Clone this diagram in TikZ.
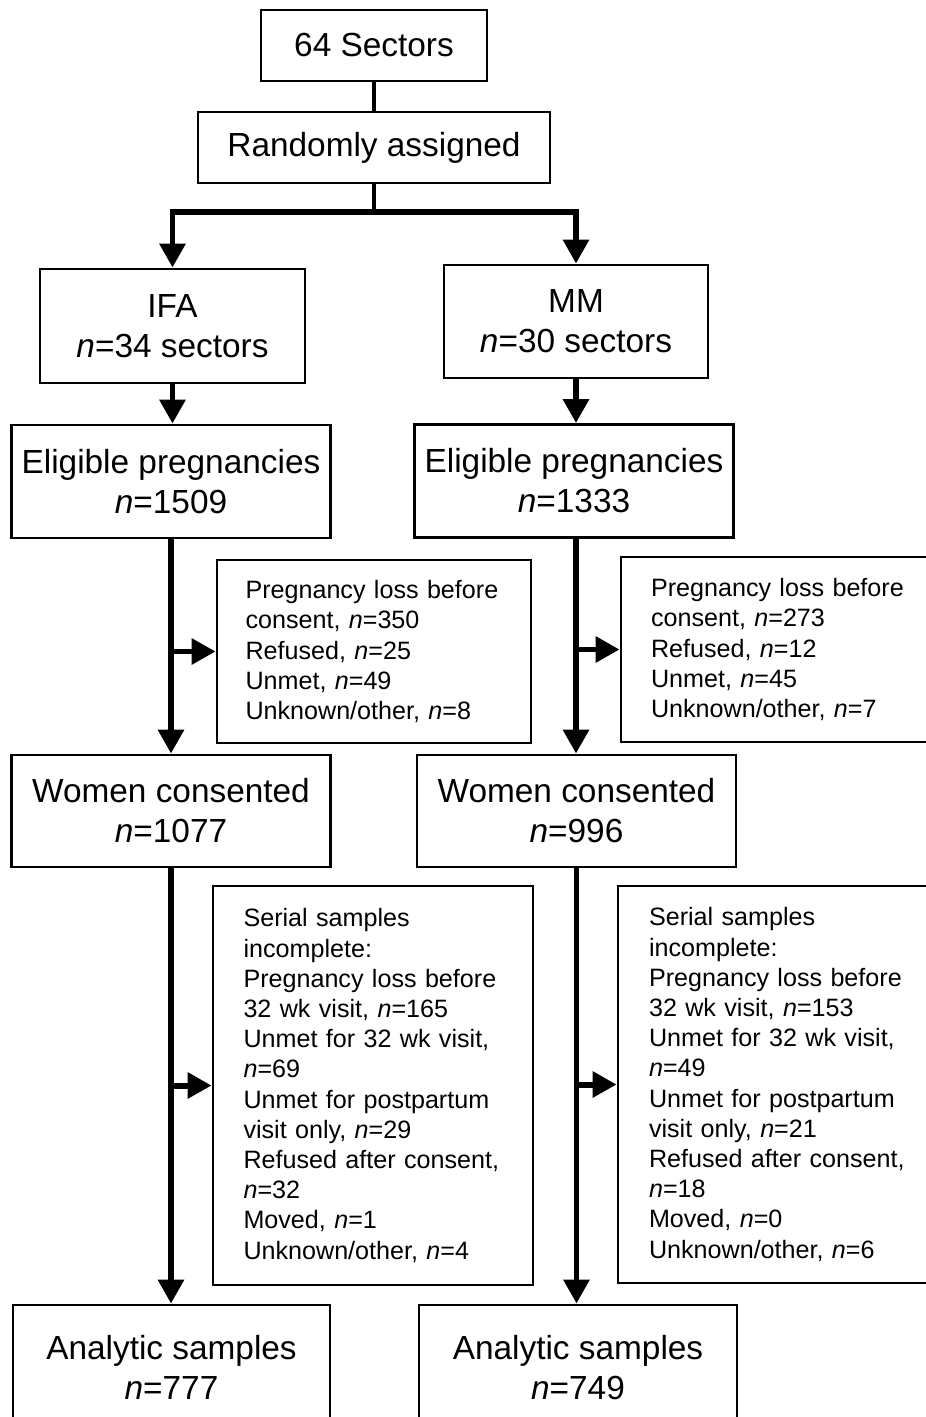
\documentclass[tikz,border=0pt]{standalone}
\usepackage{fontspec}
\setmainfont{Liberation Sans}
\usepackage{tikz}
\usetikzlibrary{positioning, arrows.meta}
\newcommand{\nv}{\textit{n}}
\hyphenpenalty=10000

\begin{document}
\begin{tikzpicture}[
    x=0.02cm, y=-0.02cm,
    box/.style={draw, line width=1.6pt, rectangle, inner sep=0pt, align=center, font=\fontsize{19pt}{22.8pt}\selectfont},
    note/.style={draw, line width=1.6pt, rectangle, inner ysep=0pt, align=left, font=\fontsize{14.3pt}{17.2pt}\selectfont},
    flow/.style={line width=3.4pt, -{Triangle[length=0.48cm, width=0.5cm]}},
    link/.style={line width=2.8pt}
]
\useasboundingbox (0,0) rectangle (926,1417);
\clip (0,0) rectangle (926,1417);

% Top
\node[box, minimum width=4.52cm, minimum height=1.42cm] (sectors) at (374,45.5) {64 Sectors};
\node[box, minimum width=7.04cm, minimum height=1.42cm] (rand) at (374,147.5) {Randomly assigned};

% Arms
\node[box, minimum width=5.3cm, minimum height=2.28cm] (ifa) at (172.5,326) {IFA\\\nv=34 sectors};
\node[box, minimum width=5.28cm, minimum height=2.26cm] (mm) at (576,321.5) {MM\\\nv=30 sectors};

% Eligible
\node[box, minimum width=6.38cm, minimum height=2.26cm] (eligA) at (171,481.5) {Eligible pregnancies\\\nv=1509};
\node[box, minimum width=6.38cm, minimum height=2.26cm] (eligB) at (574,481) {Eligible pregnancies\\\nv=1333};

% Consented
\node[box, minimum width=6.38cm, minimum height=2.24cm] (consA) at (171,811) {Women consented\\\nv=1077};
\node[box, minimum width=6.38cm, minimum height=2.24cm] (consB) at (576.5,811) {Women consented\\\nv=996};

% Analytic
\node[box, minimum width=6.34cm, minimum height=2.5cm] (anaA) at (171.5,1367.5) {Analytic samples\\\nv=777};
\node[box, minimum width=6.36cm, minimum height=2.5cm] (anaB) at (578,1367.5) {Analytic samples\\\nv=749};

% Exclusions
\node[note, inner xsep=0.57cm, text width=5.14cm, minimum height=3.66cm] (exclA) at (374,651.5)
  {Pregnancy loss before\\consent, \nv=350\\Refused, \nv=25\\Unmet, \nv=49\\Unknown/other, \nv=8};
\node[note, inner xsep=0.6cm, text width=5.18cm, minimum height=3.7cm] (exclB) at (780.5,649.5)
  {Pregnancy loss before\\consent, \nv=273\\Refused, \nv=12\\Unmet, \nv=45\\Unknown/other, \nv=7};
\node[note, inner xsep=0.61cm, text width=5.18cm, minimum height=7.98cm] (serA) at (373,1085.5)
  {Serial samples\\incomplete:\\Pregnancy loss before\\32 wk visit, \nv=165\\Unmet for 32 wk visit,\\\nv=69\\Unmet for postpartum\\visit only, \nv=29\\Refused after consent,\\\nv=32\\Moved, \nv=1\\Unknown/other, \nv=4};
\node[note, inner xsep=0.62cm, text width=5.2cm, minimum height=7.94cm] (serB) at (779,1084.5)
  {Serial samples\\incomplete:\\Pregnancy loss before\\32 wk visit, \nv=153\\Unmet for 32 wk visit,\\\nv=49\\Unmet for postpartum\\visit only, \nv=21\\Refused after consent,\\\nv=18\\Moved, \nv=0\\Unknown/other, \nv=6};

% Connectors
\draw[link] (sectors) -- (rand);
\draw[link] (rand.south) -- (374,212) coordinate (split);
\draw[flow] (split) -| (ifa.north);
\draw[flow] (split) -| (mm.north);
\draw[flow] (ifa.south) -- (ifa.south |- eligA.north);
\draw[flow] (mm.south) -- (mm.south |- eligB.north);

\draw[flow] (eligA.south) -- (eligA.south |- consA.north);
\draw[flow] (eligA.south |- exclA.west) -- (exclA.west);
\draw[flow] (eligB.south) ++(2,0) coordinate (spineB) -- (spineB |- consB.north);
\draw[flow] (spineB |- exclB.west) -- (exclB.west);

\draw[flow] (consA.south) -- (consA.south |- anaA.north);
\draw[flow] (consA.south |- serA.west) -- (serA.west);
\draw[flow] (consB.south) -- (consB.south |- anaB.north);
\draw[flow] (consB.south |- serB.west) -- (serB.west);
\end{tikzpicture}
\end{document}
